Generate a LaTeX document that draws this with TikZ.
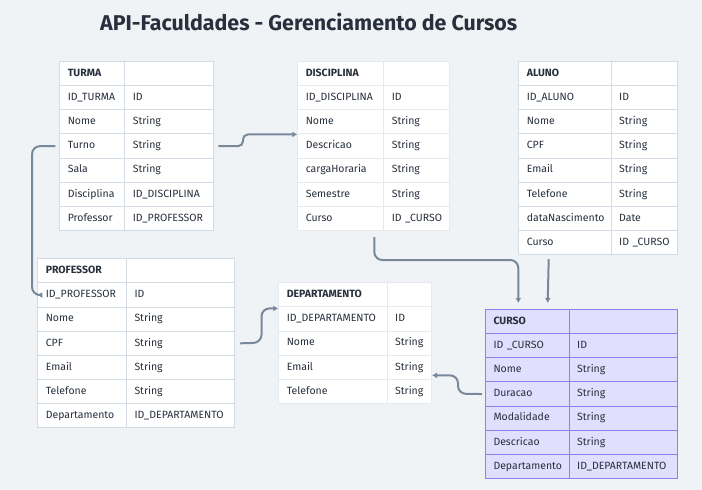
\documentclass[tikz,border=0pt]{standalone}
\usepackage{fontspec}
\setmainfont{Fira Sans}
\usetikzlibrary{arrows.meta,calc}
\definecolor{bgc}{HTML}{F0F3F6}
\definecolor{txt}{HTML}{27303C}
\definecolor{sep}{HTML}{D3DBE4}
\definecolor{sepl}{HTML}{E6EAEF}
\definecolor{conncol}{HTML}{78889A}
\definecolor{cfill}{HTML}{E0DFFD}
\definecolor{cdraw}{HTML}{8C80F3}
\def\rh{24.15}
\tikzset{
  cell/.style={rectangle, minimum height=24.15pt, inner xsep=8pt, inner ysep=0pt,
    text height=7.5pt, text depth=2pt, align=left, text=txt,
    font=\fontsize{10.5}{12}\selectfont, line width=1pt},
  plain/.style={cell, fill=white, draw=sep},
  bare/.style={cell, fill=white, draw=sepl},
  purple/.style={cell, fill=cfill, draw=cdraw},
  conn/.style={draw=conncol, line width=2pt, -{Latex[length=5pt,width=6pt]}},
}
% #1 name, #2 style, #3 x0, #4 split, #5 x1, #6 y0, #7 rows
\newcommand{\ertab}[7]{%
  \pgfmathsetmacro\wa{#4-#3-16}%
  \pgfmathsetmacro\wb{#5-#4-16}%
  \foreach [count=\i from 0] \a/\b in {#7} {
    \node[#2, text width=\wa pt, anchor=north west] (#1-\i-a) at (#3, {#6+\i*\rh}) {\mbox{\a}};
    \node[#2, text width=\wb pt, anchor=north west] (#1-\i-b) at (#4, {#6+\i*\rh}) {\mbox{\b}};
  }%
}
\begin{document}
\begin{tikzpicture}[x=1pt,y=-1pt]
\fill[bgc] (0,0) rectangle (702,490);
\useasboundingbox (0,0) rectangle (702,490);

\node[font=\fontsize{21.4}{25}\selectfont\bfseries, text=txt, anchor=base west, inner sep=0pt] (title) at (100,30) {API-Faculdades - Gerenciamento de Cursos};

\ertab{turma}{plain}{59.3}{124.3}{213.3}{61}{\textbf{TURMA}/{}, ID\_TURMA/ID, Nome/String, Turno/String, Sala/String, Disciplina/ID\_DISCIPLINA, Professor/ID\_PROFESSOR}

\ertab{disc}{bare}{297.3}{383.3}{449.3}{61}{\textbf{DISCIPLINA}/{}, ID\_DISCIPLINA/ID, Nome/String, Descricao/String, cargaHoraria/String, Semestre/String, Curso/ID \_CURSO}

\ertab{aluno}{plain}{518.3}{610.7}{677.3}{61}{\textbf{ALUNO}/{}, ID\_ALUNO/ID, Nome/String, CPF/String, Email/String, Telefone/String, dataNascimento/Date, Curso/ID \_CURSO}

\ertab{prof}{plain}{37.3}{126}{234}{258.3}{\textbf{PROFESSOR}/{}, ID\_PROFESSOR/ID, Nome/String, CPF/String, Email/String, Telefone/String, Departamento/ID\_DEPARTAMENTO}

\ertab{dept}{bare}{278.3}{386.7}{431}{282.3}{\textbf{DEPARTAMENTO}/{}, ID\_DEPARTAMENTO/ID, Nome/String, Email/String, Telefone/String}

\ertab{curso}{purple}{485}{568.7}{677.3}{309}{\textbf{CURSO}/{}, ID \_CURSO/ID, Nome/String, Duracao/String, Modalidade/String, Descricao/String, Departamento/ID\_DEPARTAMENTO}

% connectors
\draw[conn, rounded corners=8pt] ($(turma-3-a.west)+(-4,0)$) -- (32,146.2) |- (prof-1-a.west);
\draw[conn, rounded corners=5pt] ($(turma-3-b.east)+(4,0)$) -- (243,146.2) |- (disc-2-a.south west);
\draw[conn, rounded corners=8pt] ($(disc-6-a.south east)+(-10,6)$) |- (518.3,260) -- ($(curso-0-a.north west)+(33.3,-6)$);
\draw[conn] ($(aluno-7-a.south east)+(-63,4)$) -- ($(curso-0-a.north west)+(62.7,-6)$);
\draw[conn, rounded corners=8pt] ($(prof-3-b.east)+(5,0)$) -- (261.5,342.7) |- ($(dept-1-a.north west)+(0,2)$);
\draw[conn, rounded corners=8pt] ($(curso-3-a.west)+(-3,0)$) -- (458,393.8) |- ($(dept-3-b.east)+(0,8)$);
\end{tikzpicture}
\end{document}
